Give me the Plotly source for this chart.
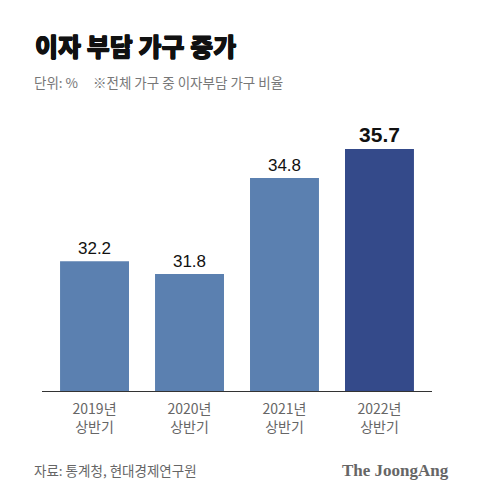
import plotly.graph_objects as go

categories = ["2019년<br>상반기", "2020년<br>상반기", "2021년<br>상반기", "2022년<br>상반기"]
values = [32.2, 31.8, 34.8, 35.7]
bar_colors = ["#5b80b0", "#5b80b0", "#5b80b0", "#344a8a"]
title = "이자 부담 가구 증가"
unit_note = "단위: %"
sub_note = "※전체 가구 중 이자부담 가구 비율"
source = "자료: 통계청, 현대경제연구원"
brand = "The JoongAng"

KR = "Noto Sans CJK KR"
NUM = "Liberation Sans, Arial, sans-serif"

labels = [f"{v}" for v in values]
labels[-1] = f"<b>{values[-1]}</b>"
sizes = [17, 17, 17, 21]

L, R, T, B = 42, 48, 100, 107
W, H = 480, 498

x = list(range(len(categories)))
fig = go.Figure(go.Bar(
    x=x, y=values, marker=dict(color=bar_colors, line=dict(width=0)),
    text=labels, textposition="outside", cliponaxis=False,
    textfont=dict(family=NUM, size=sizes, color="#111111"),
    width=0.726,
))

def px(xp, yp):
    return (xp - L) / (W - L - R), (H - yp - B) / (H - T - B)

ann = []
def add(text, xp, yp, xanchor, font):
    ax, ay = px(xp, yp)
    ann.append(dict(text=text, x=ax, y=ay, xref="paper", yref="paper", showarrow=False,
                    xanchor=xanchor, yanchor="middle", font=font))

add(f"<b>{title}</b>", 33, 45, "left",
    dict(family="Noto Sans CJK KR Black, Noto Sans CJK KR", size=25, color="#111111", weight=900,
         shadow="0.6px 0 0 #111111, -0.4px 0 0 #111111, 0 0.5px 0 #111111"))
add(unit_note, 32, 82, "left", dict(family=KR, size=13.5, color="#777777"))
add(sub_note, 91, 82, "left", dict(family=KR, size=13.5, color="#777777"))
add(source, 32, 470, "left", dict(family=KR, size=13.5, color="#666666"))
add(f"<b>{brand}</b>", 451, 470, "right", dict(family="Liberation Serif, serif", size=17, color="#666666"))

fig.update_layout(
    width=W, height=H,
    margin=dict(l=L, r=R, t=T, b=B),
    paper_bgcolor="#ffffff", plot_bgcolor="#ffffff",
    showlegend=False,
    xaxis=dict(range=[-0.553, 3.553], tickmode="array", tickvals=x, ticktext=categories,
               showgrid=False, zeroline=False, showline=True, linecolor="#333333", linewidth=1,
               ticks="", ticklabelstandoff=5, tickfont=dict(family=KR, size=14, color="#666666")),
    yaxis=dict(range=[28.15, 37.23], visible=False, showgrid=False),
    annotations=ann,
)

fig.write_html("out.html", config={"displayModeBar": False},
               post_script="document.body.style.margin='0';document.body.style.padding='0';")
